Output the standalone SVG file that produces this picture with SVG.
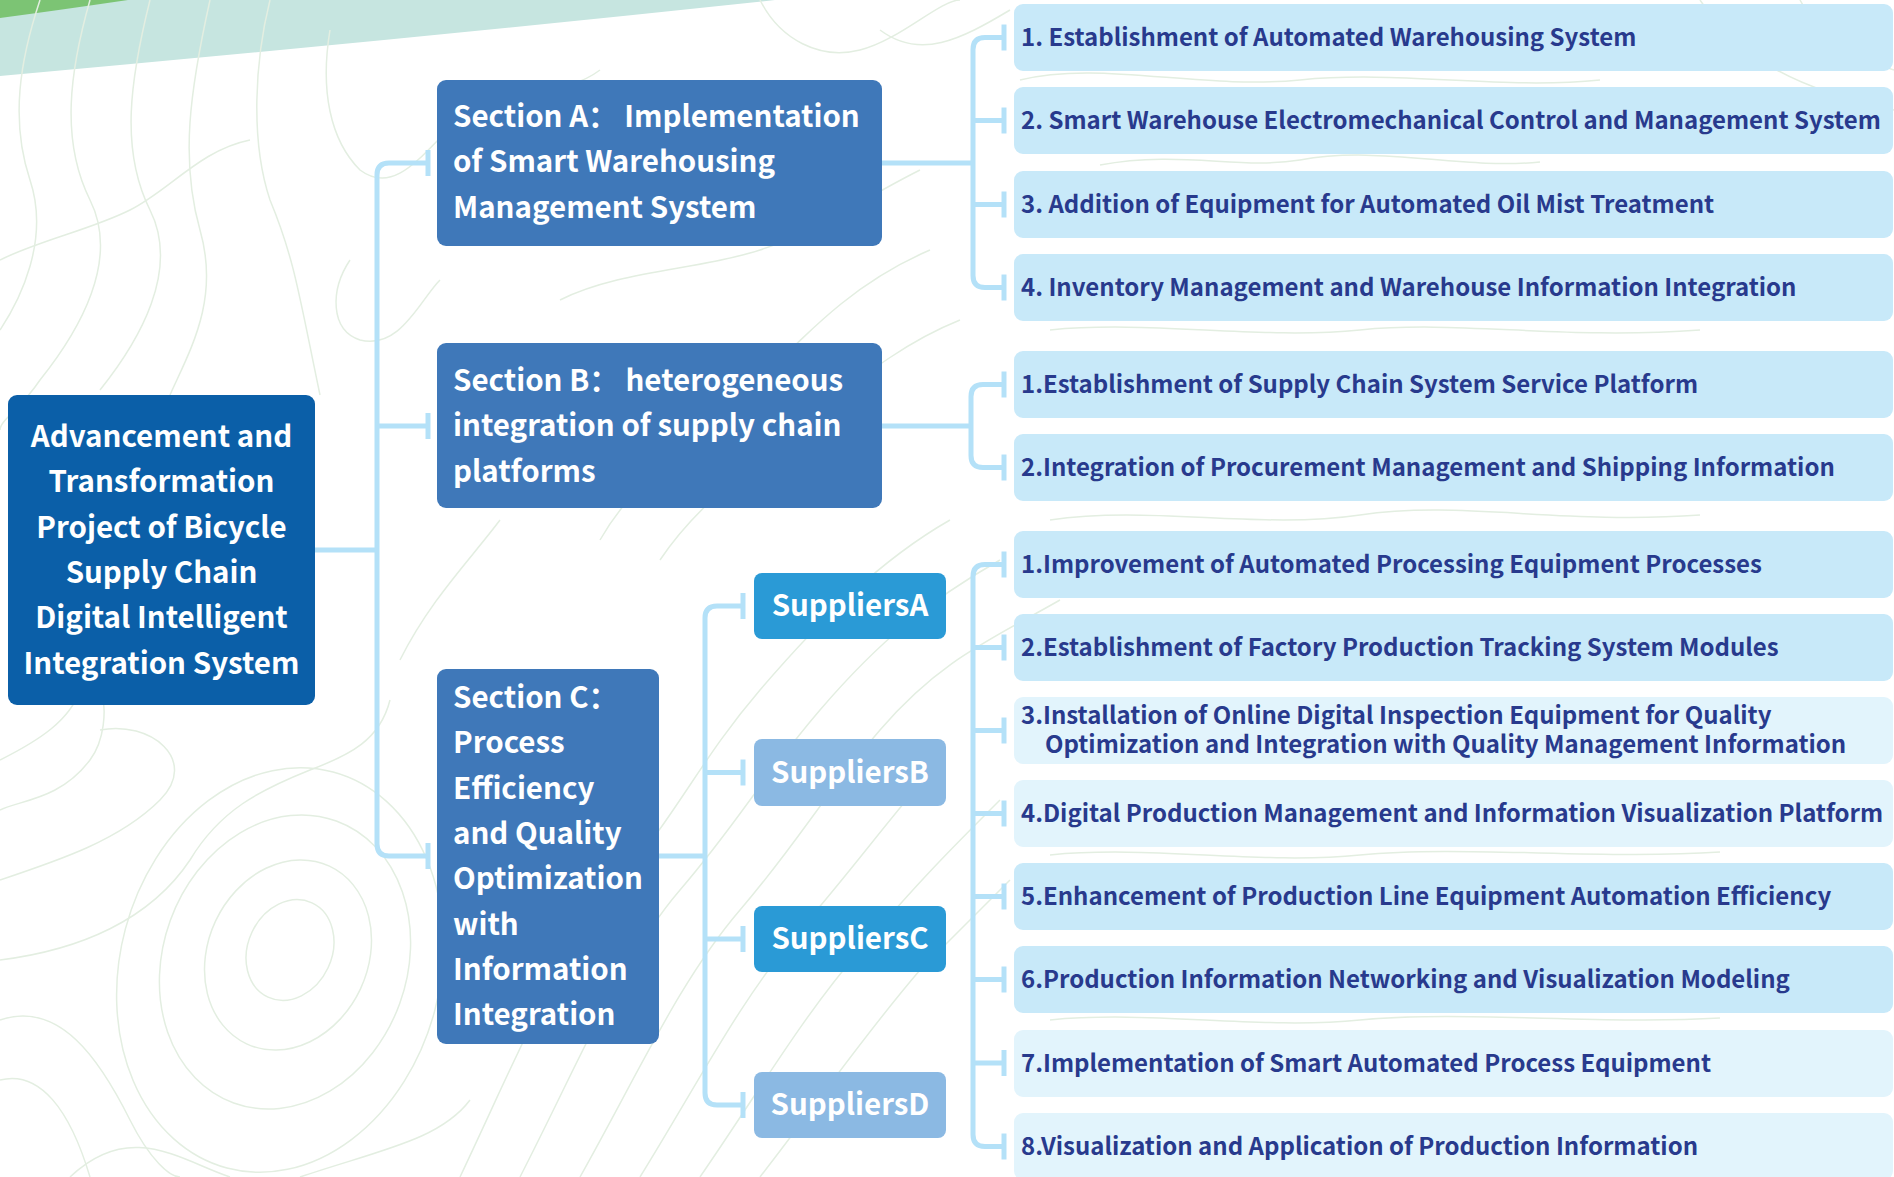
<svg xmlns="http://www.w3.org/2000/svg" width="1894" height="1177" viewBox="0 0 1894 1177">
<style>
.bg{fill:#ffffff}
.topo{fill:none;stroke:#e3eee1;stroke-width:1.5}
.conn{fill:none;stroke:#b4e1f8;stroke-width:5;stroke-linejoin:round}
.tick{stroke:#b4e1f8;stroke-width:5}
.root{fill:#0b5fa8}
.sec{fill:#3f78b9}
.supA{fill:#2a9ad6}
.supB{fill:#8bb9e3}
.itemD{fill:#c8e9f9}
.itemL{fill:#e2f4fc}
.wt{font-family:"Noto Sans CJK SC","Noto Sans",sans-serif;font-weight:700;fill:#ffffff;font-size:29.5px}
.it{font-family:"Noto Sans CJK SC","Noto Sans",sans-serif;font-weight:700;fill:#283a8d;font-size:24px}
</style>
<rect class="bg" x="0" y="0" width="1894" height="1177"/>
<g id="background">
<path d="M0 0 H775 Q400 40 0 76 Z" fill="#c6e5e0"/>
<path d="M0 0 H128 Q60 10 0 18 Z" fill="#7cc474"/>
<g class="topo">
<path d="M40 0 C20 60 10 120 30 180 C50 240 20 300 0 330"/>
<path d="M90 0 C70 70 60 140 90 200 C120 260 80 330 40 380 C20 410 0 420 0 430"/>
<path d="M150 0 C130 80 120 150 150 210 C180 270 140 340 100 390"/>
<path d="M210 0 C190 90 180 160 200 230 C220 300 190 350 170 395"/>
<path d="M270 0 C255 60 250 140 270 200 C295 260 300 300 320 395"/>
<path d="M330 30 C320 90 330 140 360 170 C400 200 430 140 470 110 C520 80 560 100 600 70"/>
<path d="M350 260 C330 290 330 330 360 340 C400 350 420 300 440 280"/>
<path d="M0 260 C40 240 90 230 130 210 C170 190 200 150 250 140"/>
<path d="M0 760 C40 740 70 720 80 690 C95 640 120 720 90 760 C60 800 20 800 0 810"/>
<path d="M0 880 C60 860 120 840 160 800 C200 760 150 720 100 730"/>
<path d="M0 960 C80 950 150 920 190 860 C220 810 260 790 310 770 C350 755 380 740 390 700"/>
<ellipse cx="290" cy="950" rx="42" ry="52" transform="rotate(25 290 950)"/>
<ellipse cx="288" cy="955" rx="80" ry="98" transform="rotate(25 288 955)"/>
<ellipse cx="285" cy="962" rx="122" ry="150" transform="rotate(20 285 962)"/>
<ellipse cx="280" cy="970" rx="160" ry="205" transform="rotate(15 280 970)"/>
<path d="M0 1020 C60 1000 100 1060 130 1120 C150 1160 170 1177 180 1177"/>
<path d="M0 1080 C40 1070 70 1110 90 1177"/>
<path d="M70 1177 C130 1120 180 1160 230 1177"/>
<path d="M300 1177 C380 1150 440 1140 470 1100"/>
<path d="M460 1177 C520 1050 560 950 620 880 C680 810 700 760 760 690 C820 620 880 560 950 520"/>
<path d="M520 1177 C580 1060 620 960 680 890 C740 820 760 780 820 710 C880 640 930 600 1000 560"/>
<path d="M580 1177 C640 1070 680 980 740 910 C800 840 820 800 880 730 C940 660 990 640 1060 600"/>
<path d="M640 1177 C700 1080 740 1000 800 930 C860 860 880 830 940 760"/>
<path d="M700 1177 C760 1090 800 1020 860 950 C920 880 950 850 1000 800"/>
<path d="M760 1177 C820 1100 860 1040 920 970 C960 930 980 910 1010 880"/>
<path d="M400 660 C430 600 470 560 500 520"/>
<path d="M600 540 C640 470 700 440 760 380 C820 320 860 280 930 250"/>
<path d="M660 560 C700 500 760 460 820 410 C870 370 910 340 960 320"/>
<path d="M560 300 C620 270 700 270 760 250 C820 230 860 200 920 170"/>
<path d="M880 30 C920 60 960 40 1010 10"/>
<path d="M760 0 C780 40 820 60 860 50 C900 40 940 0 960 0"/>
<path d="M1020 80 C1100 60 1200 90 1300 80 C1400 70 1500 90 1600 80"/>
<path d="M1100 165 C1180 150 1240 170 1300 160 C1380 145 1460 170 1540 162"/>
<path d="M1050 330 C1150 320 1260 340 1360 330 C1460 320 1560 340 1700 330"/>
<path d="M1050 520 C1150 505 1260 530 1360 515 C1460 500 1560 525 1700 515"/>
<path d="M1050 855 C1150 845 1260 865 1360 855 C1460 845 1600 860 1720 852"/>
<path d="M1050 1020 C1150 1010 1260 1030 1360 1020 C1460 1010 1600 1025 1720 1018"/>
<path d="M1800 0 C1820 40 1860 60 1894 70"/>
<path d="M1700 0 C1740 60 1800 90 1894 110"/>
</g>
</g>
<g id="connectors">
<path class="conn" d="M315 550 H377"/>
<path class="conn" d="M428 163 H389 Q377 163 377 175 V844 Q377 856 389 856 H428"/>
<path class="conn" d="M377 426 H428"/>
<path class="conn" d="M882 163 H973"/>
<path class="conn" d="M1004 37.5 H985 Q973 37.5 973 49.5 V275.5 Q973 287.5 985 287.5 H1004"/>
<path class="conn" d="M973 120.5 H1004 M973 204.5 H1004"/>
<path class="conn" d="M882 426 H971"/>
<path class="conn" d="M1004 384.5 H983 Q971 384.5 971 396.5 V455.5 Q971 467.5 983 467.5 H1004"/>
<path class="conn" d="M659 856 H705"/>
<path class="conn" d="M743 606 H717 Q705 606 705 618 V1093 Q705 1105 717 1105 H743"/>
<path class="conn" d="M705 772.5 H743 M705 939 H743"/>
<path class="conn" d="M1004 564.5 H985 Q973 564.5 973 576.5 V1134.5 Q973 1146.5 985 1146.5 H1004"/>
<path class="conn" d="M973 647.5 H1004 M973 730.5 H1004 M973 813.5 H1004 M973 896.5 H1004 M973 979.5 H1004 M973 1063 H1004"/>
<g class="tick">
<line x1="428" y1="150" x2="428" y2="176"/>
<line x1="428" y1="413" x2="428" y2="439"/>
<line x1="428" y1="843" x2="428" y2="869"/>
<line x1="1004" y1="24.5" x2="1004" y2="50.5"/>
<line x1="1004" y1="107.5" x2="1004" y2="133.5"/>
<line x1="1004" y1="191.5" x2="1004" y2="217.5"/>
<line x1="1004" y1="274.5" x2="1004" y2="300.5"/>
<line x1="1004" y1="371.5" x2="1004" y2="397.5"/>
<line x1="1004" y1="454.5" x2="1004" y2="480.5"/>
<line x1="743" y1="593" x2="743" y2="619"/>
<line x1="743" y1="759.5" x2="743" y2="785.5"/>
<line x1="743" y1="926" x2="743" y2="952"/>
<line x1="743" y1="1092" x2="743" y2="1118"/>
<line x1="1004" y1="551.5" x2="1004" y2="577.5"/>
<line x1="1004" y1="634.5" x2="1004" y2="660.5"/>
<line x1="1004" y1="717.5" x2="1004" y2="743.5"/>
<line x1="1004" y1="800.5" x2="1004" y2="826.5"/>
<line x1="1004" y1="883.5" x2="1004" y2="909.5"/>
<line x1="1004" y1="966.5" x2="1004" y2="992.5"/>
<line x1="1004" y1="1050" x2="1004" y2="1076"/>
<line x1="1004" y1="1133.5" x2="1004" y2="1159.5"/>
</g>
</g>
<g id="root">
<rect class="root" x="8" y="395" width="307" height="310" rx="9"/>
<text class="wt" text-anchor="middle" x="161.5"><tspan x="161.5" y="447">Advancement and</tspan><tspan x="161.5" y="492.3">Transformation</tspan><tspan x="161.5" y="537.6">Project of Bicycle</tspan><tspan x="161.5" y="582.9">Supply Chain</tspan><tspan x="161.5" y="628.2">Digital Intelligent</tspan><tspan x="161.5" y="673.5">Integration System</tspan></text>
</g>
<g id="sectionA">
<rect class="sec" x="437" y="80" width="445" height="166" rx="9"/>
<text class="wt"><tspan x="453" y="127">Section A： Implementation</tspan><tspan x="453" y="172.3">of Smart Warehousing</tspan><tspan x="453" y="217.6">Management System</tspan></text>
</g>
<g id="sectionB">
<rect class="sec" x="437" y="343" width="445" height="165" rx="9"/>
<text class="wt"><tspan x="453" y="391">Section B： heterogeneous</tspan><tspan x="453" y="436.3">integration of supply chain</tspan><tspan x="453" y="481.6">platforms</tspan></text>
</g>
<g id="sectionC">
<rect class="sec" x="437" y="669" width="222" height="375" rx="9"/>
<text class="wt"><tspan x="453" y="708">Section C：</tspan><tspan x="453" y="753.3">Process</tspan><tspan x="453" y="798.6">Efficiency</tspan><tspan x="453" y="843.9">and Quality</tspan><tspan x="453" y="889.2">Optimization</tspan><tspan x="453" y="934.5">with</tspan><tspan x="453" y="979.8">Information</tspan><tspan x="453" y="1025.1">Integration</tspan></text>
</g>
<g id="suppliersA">
<rect class="supA" x="754" y="573" width="192" height="66" rx="8"/>
<text class="wt" text-anchor="middle" x="850" y="616">SuppliersA</text>
</g>
<g id="suppliersB">
<rect class="supB" x="754" y="739" width="192" height="67" rx="8"/>
<text class="wt" text-anchor="middle" x="850" y="783">SuppliersB</text>
</g>
<g id="suppliersC">
<rect class="supA" x="754" y="906" width="192" height="66" rx="8"/>
<text class="wt" text-anchor="middle" x="850" y="949">SuppliersC</text>
</g>
<g id="suppliersD">
<rect class="supB" x="754" y="1072" width="192" height="66" rx="8"/>
<text class="wt" text-anchor="middle" x="850" y="1115">SuppliersD</text>
</g>
<g id="a1"><rect class="itemD" x="1014" y="4" width="879" height="67" rx="9"/><text class="it" x="1021" y="45.5">1. Establishment of Automated Warehousing System</text></g>
<g id="a2"><rect class="itemD" x="1014" y="87" width="879" height="67" rx="9"/><text class="it" x="1021" y="128.5">2. Smart Warehouse Electromechanical Control and Management System</text></g>
<g id="a3"><rect class="itemD" x="1014" y="171" width="879" height="67" rx="9"/><text class="it" x="1021" y="212.5">3. Addition of Equipment for Automated Oil Mist Treatment</text></g>
<g id="a4"><rect class="itemD" x="1014" y="254" width="879" height="67" rx="9"/><text class="it" x="1021" y="295.5">4. Inventory Management and Warehouse Information Integration</text></g>
<g id="b1"><rect class="itemD" x="1014" y="351" width="879" height="67" rx="9"/><text class="it" x="1021" y="392.5">1.Establishment of Supply Chain System Service Platform</text></g>
<g id="b2"><rect class="itemD" x="1014" y="434" width="879" height="67" rx="9"/><text class="it" x="1021" y="475.5">2.Integration of Procurement Management and Shipping Information</text></g>
<g id="c1"><rect class="itemD" x="1014" y="531" width="879" height="67" rx="9"/><text class="it" x="1021" y="572.5">1.Improvement of Automated Processing Equipment Processes</text></g>
<g id="c2"><rect class="itemD" x="1014" y="614" width="879" height="67" rx="9"/><text class="it" x="1021" y="655.5">2.Establishment of Factory Production Tracking System Modules</text></g>
<g id="c3"><rect class="itemL" x="1014" y="697" width="879" height="67" rx="9"/><text class="it"><tspan x="1021" y="724">3.Installation of Online Digital Inspection Equipment for Quality</tspan><tspan x="1045" y="753">Optimization and Integration with Quality Management Information</tspan></text></g>
<g id="c4"><rect class="itemL" x="1014" y="780" width="879" height="67" rx="9"/><text class="it" x="1021" y="821.5">4.Digital Production Management and Information Visualization Platform</text></g>
<g id="c5"><rect class="itemD" x="1014" y="863" width="879" height="67" rx="9"/><text class="it" x="1021" y="904.5">5.Enhancement of Production Line Equipment Automation Efficiency</text></g>
<g id="c6"><rect class="itemD" x="1014" y="946" width="879" height="67" rx="9"/><text class="it" x="1021" y="987.5">6.Production Information Networking and Visualization Modeling</text></g>
<g id="c7"><rect class="itemL" x="1014" y="1030" width="879" height="67" rx="9"/><text class="it" x="1021" y="1071.5">7.Implementation of Smart Automated Process Equipment</text></g>
<g id="c8"><rect class="itemL" x="1014" y="1113" width="879" height="67" rx="9"/><text class="it" x="1021" y="1154.5">8.Visualization and Application of Production Information</text></g>
</svg>
